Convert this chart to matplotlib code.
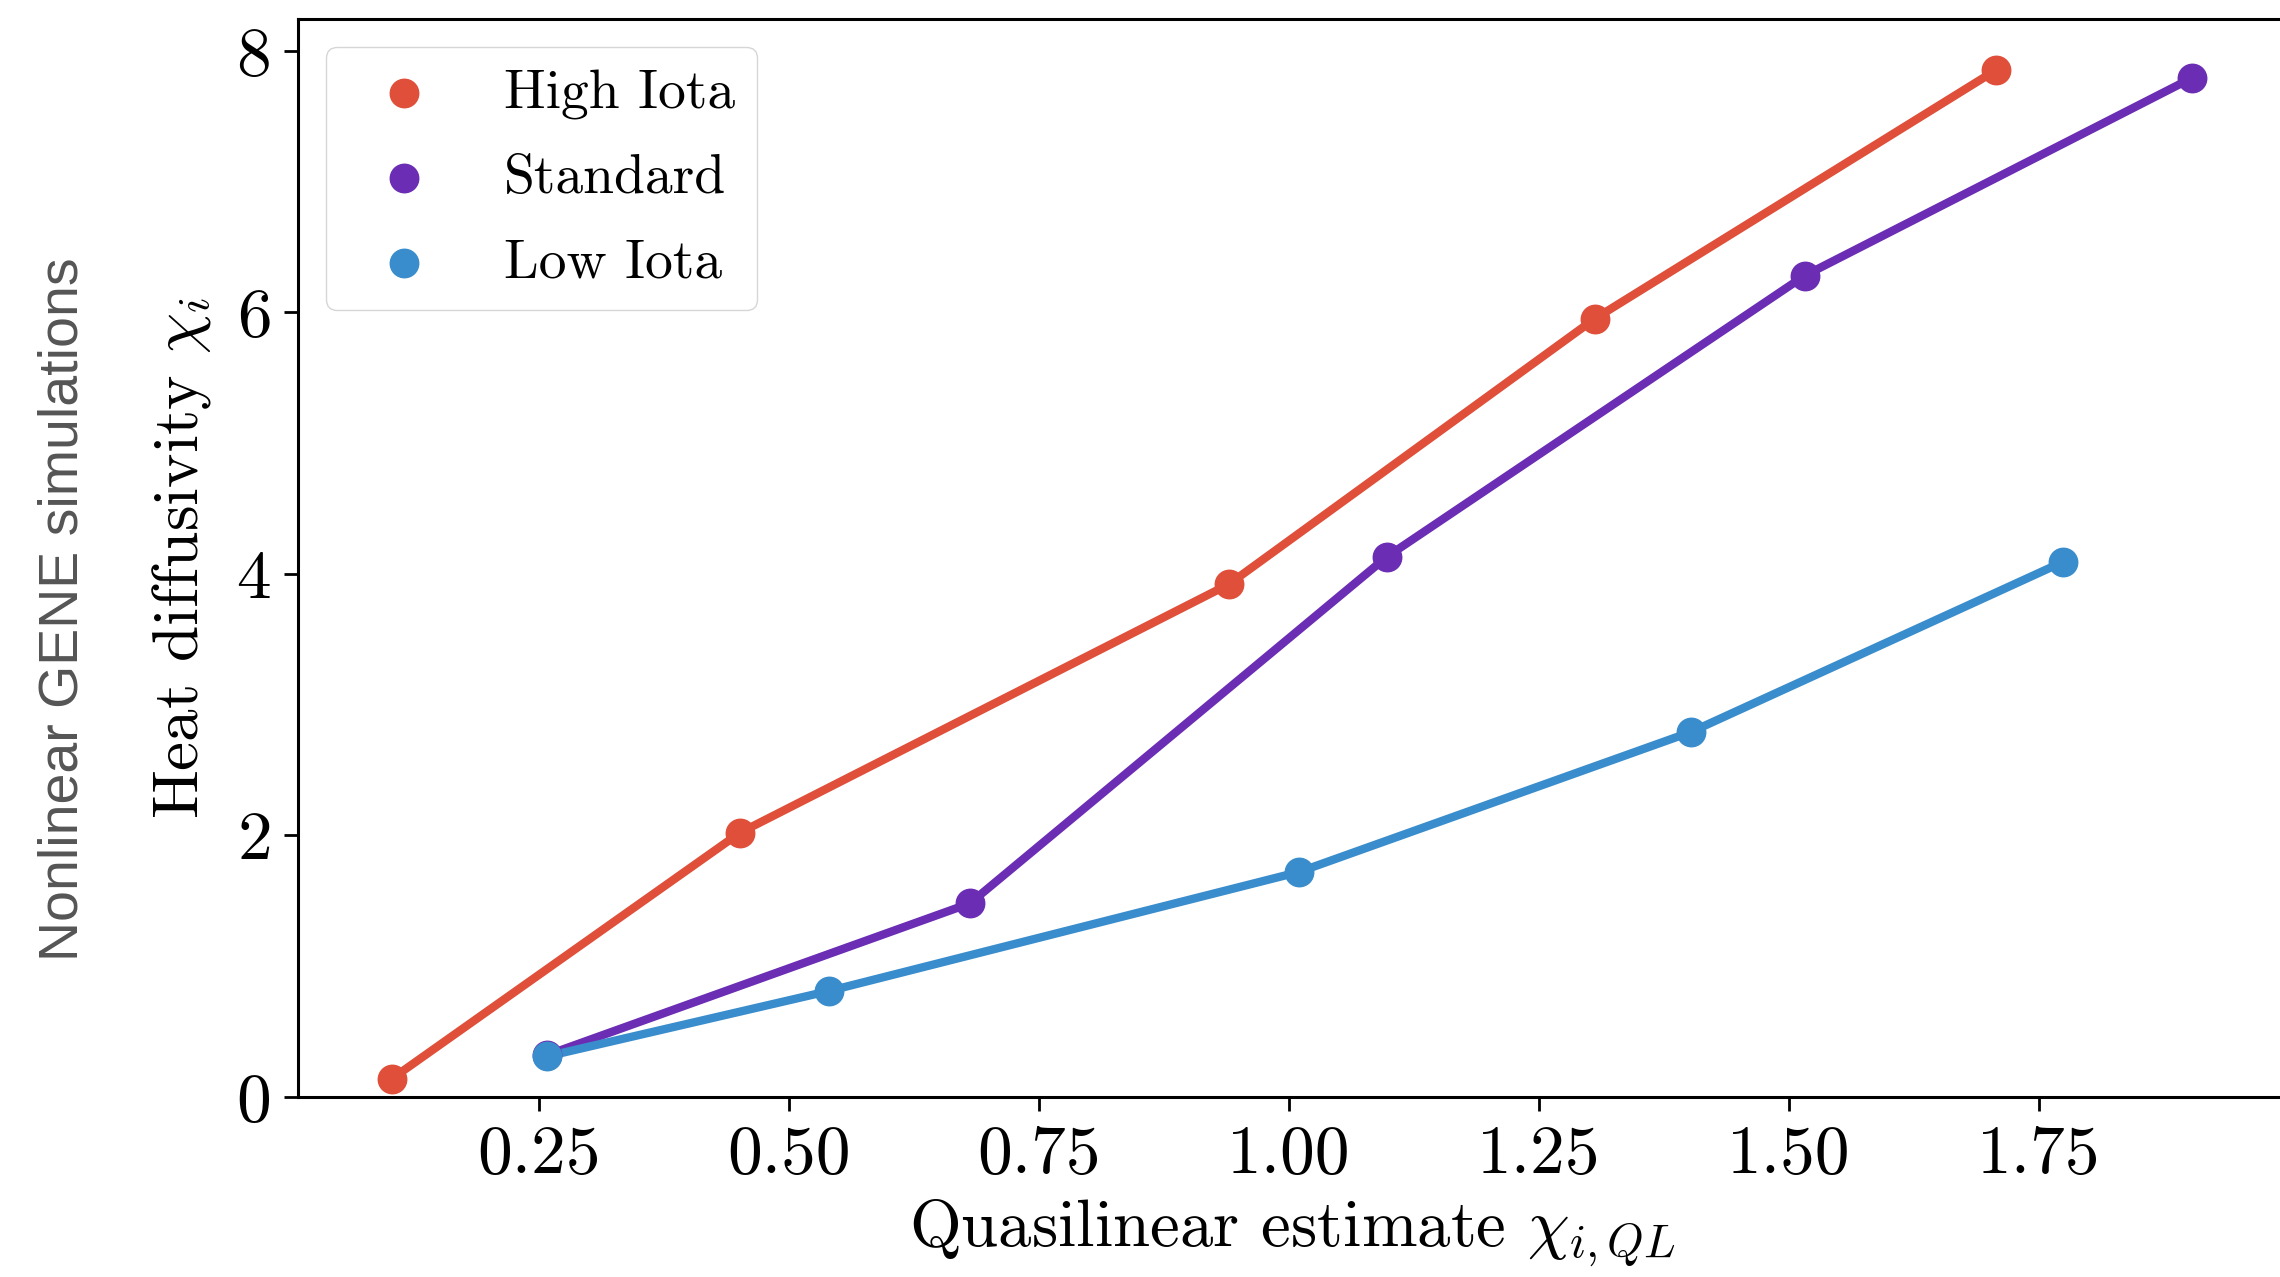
import matplotlib
matplotlib.use("Agg")
import matplotlib.pyplot as plt

plt.rcParams['font.family'] = 'serif'
plt.rcParams['font.serif'] = ['cmr10']
plt.rcParams['mathtext.fontset'] = 'cm'
plt.rcParams['axes.formatter.use_mathtext'] = True

# quasilinear estimate vs nonlinear heat diffusivity
high_x = [0.103, 0.451, 0.940, 1.306, 1.707]
high_y = [0.14, 2.02, 3.92, 5.95, 7.85]

std_x = [0.258, 0.681, 1.098, 1.516, 1.903]
std_y = [0.32, 1.48, 4.13, 6.28, 7.79]

low_x = [0.258, 0.540, 1.010, 1.402, 1.774]
low_y = [0.31, 0.81, 1.72, 2.79, 4.09]

names = ['High Iota', 'Standard', 'Low Iota']
colors = ['#df4f3a', '#6a2db3', '#3a8dcc']
xticks = [0.25, 0.50, 0.75, 1.00, 1.25, 1.50, 1.75]
yticks = [0, 2, 4, 6, 8]

fig = plt.figure(figsize=(22.8, 12.77), dpi=100)
ax = fig.add_axes([0.1307, 0.141, 0.8723, 0.844])

for xs, ys, c, n in zip([high_x, std_x, low_x], [high_y, std_y, low_y], colors, names):
    ax.plot(xs, ys, color=c, lw=6, zorder=2)
    ax.scatter(xs, ys, color=c, s=420, label=n, zorder=3)

ax.set_xlim(0.009, 1.998)
ax.set_ylim(0, 8.24)
ax.set_xticks(xticks)
ax.set_xticklabels(['%.2f' % t for t in xticks])
ax.set_yticks(yticks)

ax.tick_params(labelsize=50, length=10, width=2, pad=10)
for s in ax.spines.values():
    s.set_linewidth(2.2)
ax.spines['right'].set_visible(False)

ax.set_xlabel(r'Quasilinear estimate $\chi_{i,QL}$', fontsize=48, labelpad=9)
ax.set_ylabel(r'Heat diffusivity $\chi_i$', fontsize=47, labelpad=16)

ax.legend(loc='upper left', fontsize=40, labelspacing=0.62)

fig.text(0.028, 0.523, 'Nonlinear GENE simulations', rotation=90,
         ha='center', va='center', fontsize=40, color='#555555',
         family='Liberation Sans')

plt.savefig('out.png', dpi=100)
